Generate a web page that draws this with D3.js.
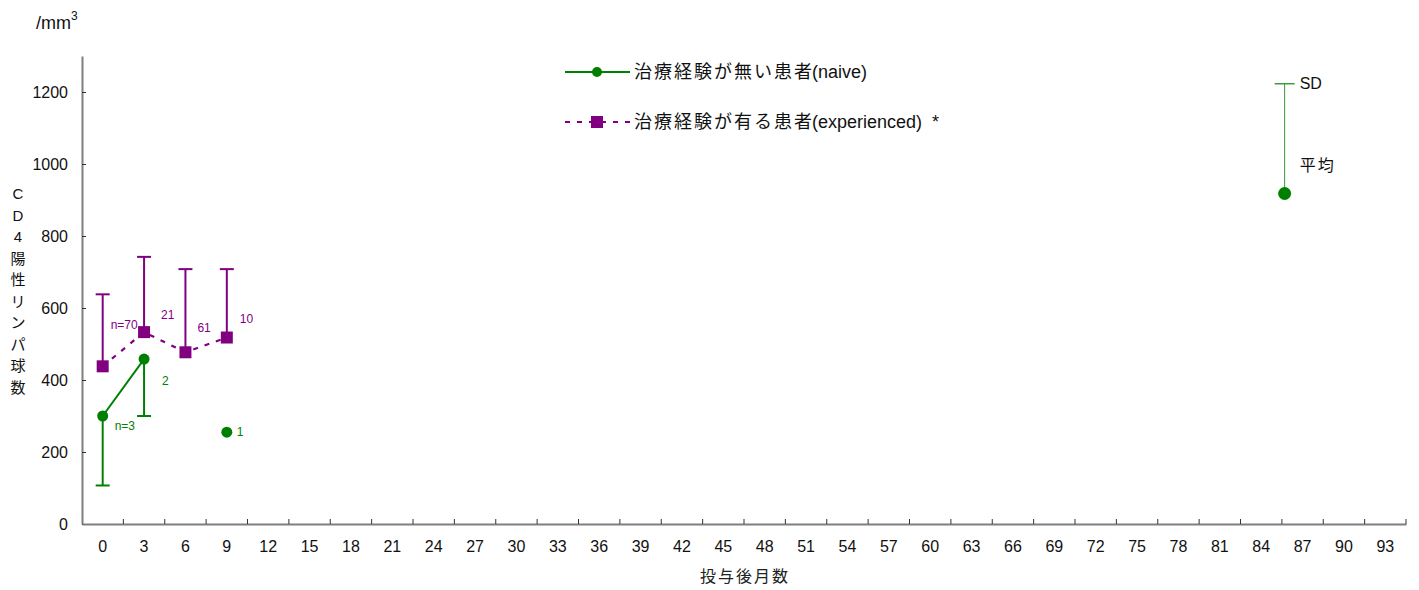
<!DOCTYPE html>
<html><head><meta charset="utf-8">
<script src="https://cdn.jsdelivr.net/npm/d3@7"></script>
<style>
body{margin:0;background:#fff;}
text{font-family:Arimo,"Liberation Sans","Noto Sans CJK JP",sans-serif;}
</style></head>
<body><svg id="c" width="1419" height="590"></svg>
<script>
const xCategories = d3.range(0, 94, 3).map(String);
const yTicks = [0,200,400,600,800,1000,1200];
const naiveMonths = [0,3,9];
const naiveMean = [300,458,255];
const naiveSDLow = [107,300,null];
const naiveN = ["n=3","2","1"];
const expMonths = [0,3,6,9];
const expMean = [438,533,477,518];
const expSDHigh = [638,742,708,708];
const expN = ["n=70","21","61","10"];
const keyItem = {month:85.7, mean:918, sd:305};
const legendCJK = ["治療経験が無い患者","治療経験が有る患者"];
const legendLatin = ["(naive)","(experienced)  *"];
const yTitle = ["C","D","4","陽","性","リ","ン","パ","球","数"];

const svg = d3.select("#c");
const green = "#008000", purple = "#800080", axisCol = "#7f7f7f";
const x = d3.scaleBand().domain(xCategories).range([82,1406]);
const xm = d3.scaleLinear().domain([-1.5,94.5]).range([82,1406]);
const y = d3.scaleLinear().domain([0,1300]).range([524,56]);
const cjk = "'Noto Sans CJK JP',sans-serif";

// axes
const yAxis = svg.append("g").attr("transform","translate(82,0)")
  .call(d3.axisLeft(y).tickValues(yTicks).tickSizeInner(-4).tickSizeOuter(0).tickPadding(14).tickFormat(d3.format("d")));
yAxis.select(".domain").attr("stroke",axisCol).attr("stroke-width",2);
yAxis.selectAll(".tick line").attr("stroke","#333");
yAxis.selectAll(".tick text").attr("font-size",16).attr("fill","#111").attr("font-family","Arimo,'Liberation Sans',sans-serif");

const xAxis = svg.append("g").attr("transform","translate(0,524)")
  .call(d3.axisBottom(x).tickSize(0).tickPadding(17));
xAxis.select(".domain").attr("stroke",axisCol).attr("stroke-width",2);
xAxis.selectAll(".tick text").attr("font-size",16).attr("fill","#111").attr("font-family","Arimo,'Liberation Sans',sans-serif");
svg.append("g").selectAll("line").data(xCategories).join("line")
  .attr("x1",d=>x(d)+x.bandwidth()).attr("x2",d=>x(d)+x.bandwidth())
  .attr("y1",524).attr("y2",519).attr("stroke","#333").attr("stroke-width",1);

// titles
svg.append("text").attr("x",36).attr("y",29).attr("font-size",18).attr("fill","#111")
  .text("/mm").append("tspan").attr("dy",-9).attr("font-size",12).text("3");
svg.append("text").attr("x",745).attr("y",582).attr("text-anchor","middle").attr("font-size",16).attr("fill","#222")
  .attr("letter-spacing",2).attr("font-family",cjk).text("投与後月数");
svg.append("g").selectAll("text").data(yTitle).join("text")
  .attr("x",18).attr("y",(d,i)=>199+i*21.5).attr("text-anchor","middle").attr("font-size",15)
  .attr("fill","#111").attr("font-family",cjk).text(d=>d);

const cap = 7;
const nData = naiveMonths.map((m,i)=>({m, v:naiveMean[i], lo:naiveSDLow[i], n:naiveN[i]}));
const eData = expMonths.map((m,i)=>({m, v:expMean[i], hi:expSDHigh[i], n:expN[i]}));
const nErr = svg.append("g").attr("stroke",green).attr("stroke-width",2);
nData.filter(d=>d.lo!=null).forEach(d=>{
  nErr.append("line").attr("x1",xm(d.m)).attr("x2",xm(d.m)).attr("y1",y(d.v)).attr("y2",y(d.lo));
  nErr.append("line").attr("x1",xm(d.m)-cap).attr("x2",xm(d.m)+cap).attr("y1",y(d.lo)).attr("y2",y(d.lo));
});
const eErr = svg.append("g").attr("stroke",purple).attr("stroke-width",2);
eData.forEach(d=>{
  eErr.append("line").attr("x1",xm(d.m)).attr("x2",xm(d.m)).attr("y1",y(d.v)).attr("y2",y(d.hi));
  eErr.append("line").attr("x1",xm(d.m)-cap).attr("x2",xm(d.m)+cap).attr("y1",y(d.hi)).attr("y2",y(d.hi));
});

// lines
const line = d3.line().x(d=>xm(d.m)).y(d=>y(d.v));
svg.append("path").datum(nData.slice(0,2)).attr("d",line).attr("fill","none").attr("stroke",green).attr("stroke-width",2);
svg.append("path").datum(eData).attr("d",line).attr("fill","none").attr("stroke",purple).attr("stroke-width",2.2).attr("stroke-dasharray","5,7");

// markers
svg.append("g").selectAll("circle").data(nData).join("circle")
  .attr("cx",d=>xm(d.m)).attr("cy",d=>y(d.v)).attr("r",5.5).attr("fill",green);
svg.append("g").selectAll("rect").data(eData).join("rect")
  .attr("x",d=>xm(d.m)-6).attr("y",d=>y(d.v)-6).attr("width",12).attr("height",12).attr("fill",purple);

// n labels
const nOff = [[12,14],[18,26],[10,4]];
svg.append("g").selectAll("text").data(nData).join("text")
  .attr("x",(d,i)=>xm(d.m)+nOff[i][0]).attr("y",(d,i)=>y(d.v)+nOff[i][1])
  .attr("font-size",12).attr("fill",green).text(d=>d.n);
const eOff = [[8,-37],[17,-13],[12,-20],[13,-15]];
svg.append("g").selectAll("text").data(eData).join("text")
  .attr("x",(d,i)=>xm(d.m)+eOff[i][0]).attr("y",(d,i)=>y(d.v)+eOff[i][1])
  .attr("font-size",12).attr("fill",purple).text(d=>d.n);

// legend
const lg = svg.append("g");
lg.append("line").attr("x1",565).attr("x2",630).attr("y1",72).attr("y2",72).attr("stroke",green).attr("stroke-width",2);
lg.append("circle").attr("cx",597).attr("cy",72).attr("r",5).attr("fill",green);
lg.append("line").attr("x1",565).attr("x2",630).attr("y1",122).attr("y2",122).attr("stroke",purple).attr("stroke-width",2.2).attr("stroke-dasharray","5,7");
lg.append("rect").attr("x",591).attr("y",116).attr("width",12).attr("height",12).attr("fill",purple);
const lt = lg.selectAll("text").data(legendCJK).join("text")
  .attr("x",634).attr("y",(d,i)=>78+i*50).attr("font-size",18).attr("fill","#111");
lt.append("tspan").attr("font-family",cjk).attr("letter-spacing",2).text(d=>d);
lt.append("tspan").attr("dx",-2).attr("style","white-space:pre").text((d,i)=>legendLatin[i]);

// SD key
const kx = xm(keyItem.month);
svg.append("line").attr("x1",kx).attr("x2",kx).attr("y1",y(keyItem.mean)).attr("y2",y(keyItem.mean+keyItem.sd)).attr("stroke","#3a9a3a").attr("stroke-width",1);
svg.append("line").attr("x1",kx-10).attr("x2",kx+10).attr("y1",y(keyItem.mean+keyItem.sd)).attr("y2",y(keyItem.mean+keyItem.sd)).attr("stroke","#3a9a3a").attr("stroke-width",1.5);
svg.append("circle").attr("cx",kx).attr("cy",y(keyItem.mean)).attr("r",6.5).attr("fill",green);
svg.append("text").attr("x",kx+15).attr("y",y(keyItem.mean+keyItem.sd)+5).attr("font-size",16).attr("fill","#111").text("SD");
svg.append("text").attr("x",kx+15).attr("y",y(keyItem.mean)-23).attr("font-size",16).attr("fill","#111")
  .attr("letter-spacing",2).attr("font-family",cjk).text("平均");
</script></body></html>
